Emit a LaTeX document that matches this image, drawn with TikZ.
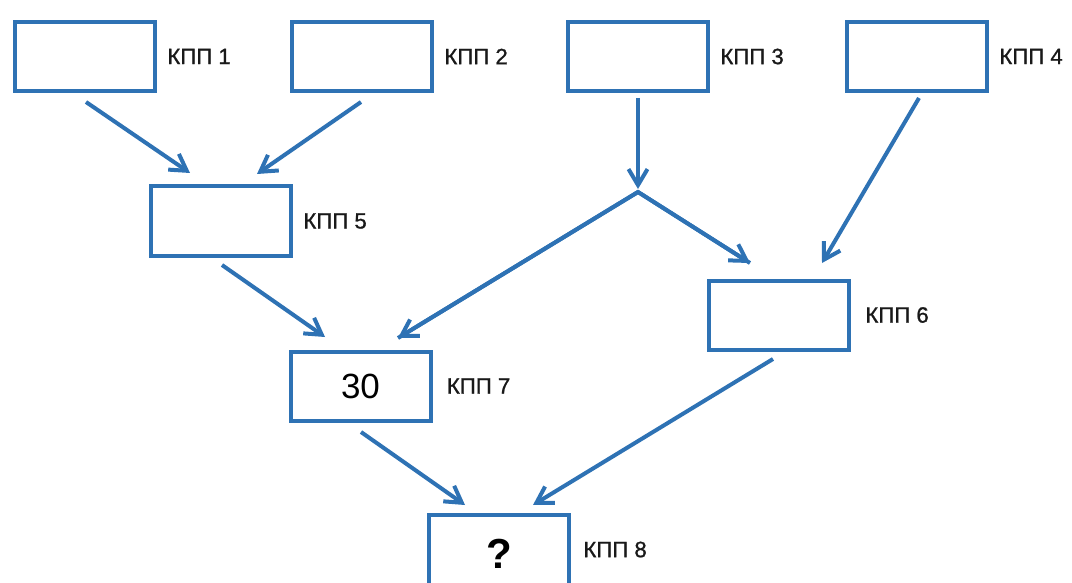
\documentclass[tikz,border=0pt]{standalone}
\usepackage{fontspec}
\setmainfont{Liberation Sans}
\newfontfamily\tagfont{Liberation Sans}[FakeBold=1]
\usetikzlibrary{arrows.meta, positioning, calc}
\definecolor{kppblue}{RGB}{46,114,180}
\tikzset{
  box/.style = {
    draw=kppblue, line width=2pt, minimum width=70pt, minimum height=34.5pt,
    inner sep=0pt, fill=white
  },
  tag/.style = {inner sep=0pt, text=black!90, font=\tagfont\fontsize{11.1}{13}\selectfont},
  arrow/.style = {-{Straight Barb[length=8pt, width=9.5pt]}, draw=kppblue, line width=2pt},
}

\begin{document}
\begin{tikzpicture}[x=0.5pt, y=-0.5pt]
    \useasboundingbox (0,0) rectangle (1072,583);

    % Row 1: four checkpoints
    \node[box] (kpp1) at (85,56.5) {};
    \node[box] (kpp2) at (362,56.5) {};
    \node[box] (kpp3) at (638,56.5) {};
    \node[box] (kpp4) at (917,56.5) {};

    % Middle rows
    \node[box] (kpp5) at (221,221) {};
    \node[box] (kpp6) at (779,315) {};
    \node[box, font=\fontsize{17.5}{20}\selectfont] (kpp7) at (360.5,386) {30};

    % Bottom (cut by the page edge)
    \node[box, minimum height=40pt, font=\bfseries\fontsize{21}{24}\selectfont] (kpp8) at (499,555) {\raisebox{1.5pt}{?}};

    % Labels
    \node[tag, right=5pt of kpp1] (l1) {КПП 1};
    \node[tag, right=5pt of kpp2] (l2) {КПП 2};
    \node[tag, right=5pt of kpp3] (l3) {КПП 3};
    \node[tag, right=5pt of kpp4] (l4) {КПП 4};
    \node[tag, right=5pt of kpp5] (l5) {КПП 5};
    \node[tag, right=7pt of kpp6] (l6) {КПП 6};
    \node[tag, right=7pt of kpp7] (l7) {КПП 7};
    \node[tag, anchor=west] (l8) at ($(kpp8.north east)+(12,36.5)$) {КПП 8};

    % Split point under КПП 3
    \coordinate (split) at ($(kpp3.south)+(0,99)$);

    % Arrows
    \draw[arrow] ($(kpp1.south)+(1,9)$) -- ($(kpp5.north)+(-31,-11.5)$);
    \draw[arrow] ($(kpp2.south)+(-1,9)$) -- ($(kpp5.north)+(36,-10.5)$);
    \draw[arrow] ($(kpp3.south)+(0,5)$) -- ($(split)+(0,-3)$);
    \draw[kppblue, line width=2pt, line join=miter] ($(kpp7.north)+(37.5,-11.5)$) -- (split) -- ($(kpp6.north)+(-29,-15.5)$);
    \draw[arrow] (split) -- ($(kpp7.north)+(37.5,-11.5)$);
    \draw[arrow] (split) -- ($(kpp6.north)+(-29,-15.5)$);
    \draw[arrow] ($(kpp4.south)+(2,5)$) -- ($(kpp6.north)+(43,-15.5)$);
    \draw[arrow] ($(kpp5.south)+(1,7.5)$) -- ($(kpp7.north)+(-35.5,-12.5)$);
    \draw[arrow] ($(kpp6.south)+(-6,7.5)$) -- ($(kpp8.north)+(34,-8)$);
    \draw[arrow] ($(kpp7.south)+(0.5,9.5)$) -- ($(kpp8.north)+(-34,-8)$);
\end{tikzpicture}
\end{document}
